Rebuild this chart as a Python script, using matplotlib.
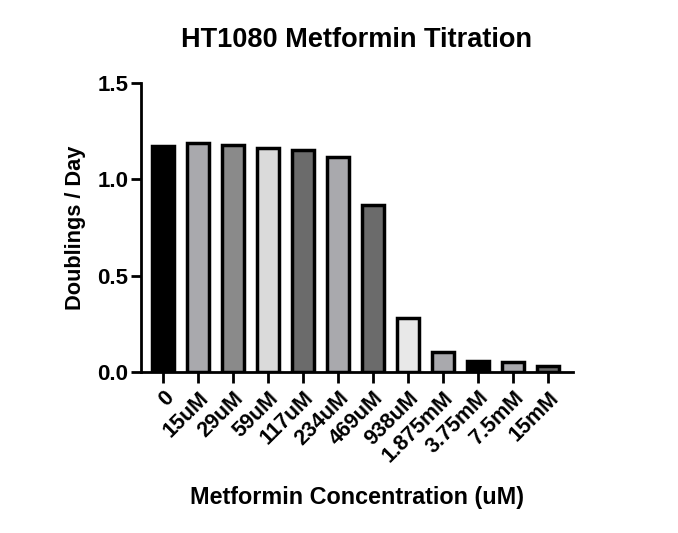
import matplotlib.pyplot as plt

plt.rcParams['font.family'] = ['Liberation Sans', 'DejaVu Sans']
plt.rcParams['font.weight'] = 'bold'

labels = ['0', '15uM', '29uM', '59uM', '117uM', '234uM', '469uM',
          '938uM', '1.875mM', '3.75mM', '7.5mM', '15mM']
values = [1.175, 1.19, 1.18, 1.165, 1.155, 1.115, 0.868,
          0.28, 0.105, 0.055, 0.05, 0.032]
colors = ['#000000', '#a9a9ad', '#8a8a8a', '#dadada', '#6b6b6b', '#a9a9ad',
          '#6b6b6b', '#e8e8e8', '#a9a9ad', '#000000', '#a9a9ad', '#6b6b6b']

fig = plt.figure(figsize=(6.78, 5.33), dpi=100)
ax = fig.add_axes([0.208, 0.302, 0.637, 0.542])

x = list(range(len(labels)))
ax.bar(x, values, width=0.62, color=colors, edgecolor='black', linewidth=2.5)

ax.set_xlim(-0.63, 11.71)
ax.set_ylim(0, 1.5)
ax.set_yticks([0.0, 0.5, 1.0, 1.5])
ax.set_yticklabels(['0.0', '0.5', '1.0', '1.5'])
ax.set_xticks(x)
ax.set_xticklabels(labels, rotation=45, ha='right', rotation_mode='anchor')

for s in ['top', 'right']:
    ax.spines[s].set_visible(False)
for s in ['left', 'bottom']:
    ax.spines[s].set_linewidth(2)

ax.tick_params(axis='y', width=2, length=7, labelsize=16, pad=2)
ax.tick_params(axis='x', width=2, length=8, labelsize=15.5, pad=3)

ax.set_title('HT1080 Metformin Titration', fontsize=19.5, fontweight='bold', pad=26)
ax.set_ylabel('Doublings / Day', fontsize=15.7, fontweight='bold', labelpad=8)
ax.set_xlabel('Metformin Concentration (uM)', fontsize=16.8, fontweight='bold', labelpad=14)

fig.savefig('out.png', dpi=100)
